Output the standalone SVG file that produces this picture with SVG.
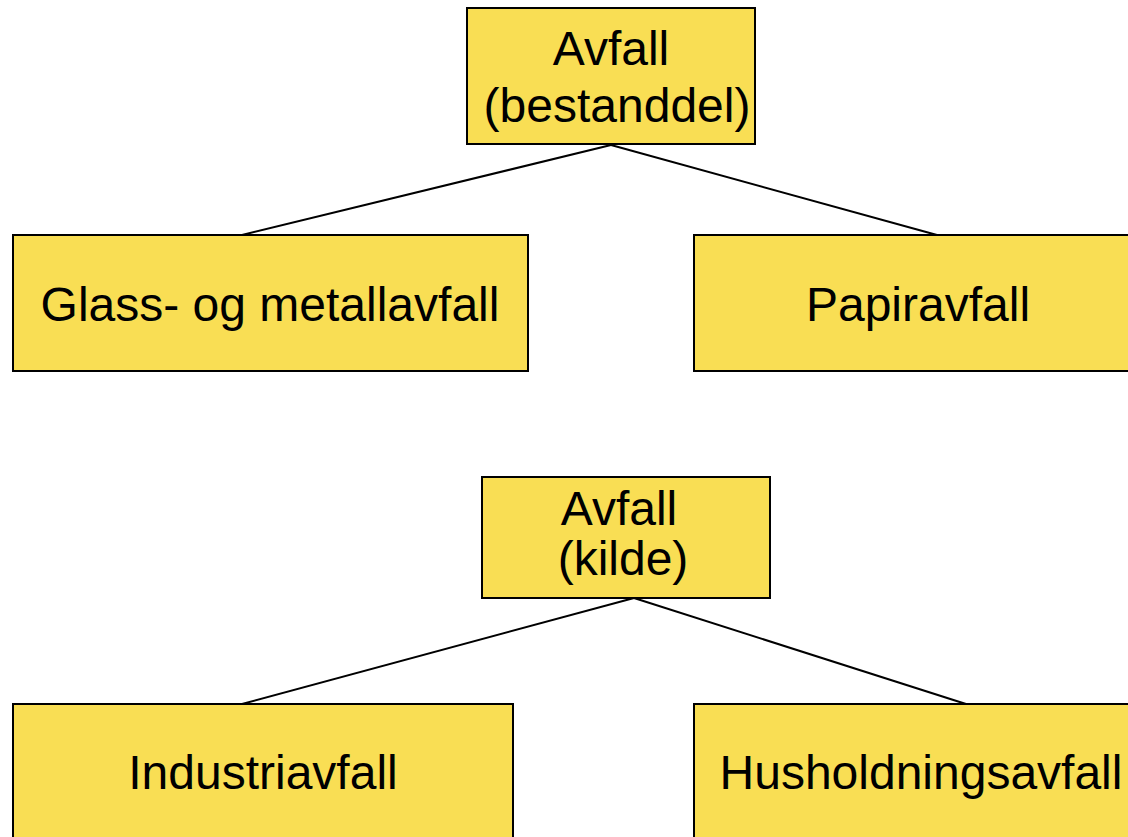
<svg xmlns="http://www.w3.org/2000/svg" width="1128" height="837" viewBox="0 0 1128 837">
<style>
.box{fill:#F9DE54;stroke:#000;stroke-width:2}
.t{font-family:"Liberation Sans",Arial,sans-serif;font-size:48px;fill:#000;text-anchor:middle}
.c{stroke:#000;stroke-width:2;fill:none}
</style>
<rect width="1128" height="837" fill="#fff"/>
<g id="connectors">
<line class="c" x1="611" y1="145" x2="242" y2="235"/>
<line class="c" x1="611" y1="145" x2="937" y2="235"/>
<line class="c" x1="634" y1="598" x2="242" y2="704"/>
<line class="c" x1="634" y1="598" x2="966" y2="704"/>
</g>
<g id="root1">
<rect class="box" x="467" y="8" width="288" height="136"/>
<text class="t" x="611" y="65">Avfall</text>
<text class="t" x="617" y="122">(bestanddel)</text>
</g>
<g id="glass">
<rect class="box" x="13" y="235" width="515" height="136"/>
<text class="t" x="270" y="321">Glass- og metallavfall</text>
</g>
<g id="papir">
<rect class="box" x="694" y="235" width="448" height="136"/>
<text class="t" x="918" y="321">Papiravfall</text>
</g>
<g id="root2">
<rect class="box" x="482" y="477" width="288" height="121"/>
<text class="t" x="619" y="525">Avfall</text>
<text class="t" x="623" y="575">(kilde)</text>
</g>
<g id="industri">
<rect class="box" x="13" y="704" width="500" height="150"/>
<text class="t" x="263" y="789">Industriavfall</text>
</g>
<g id="hushold">
<rect class="box" x="694" y="704" width="448" height="150"/>
<text class="t" x="921" y="789">Husholdningsavfall</text>
</g>
</svg>
